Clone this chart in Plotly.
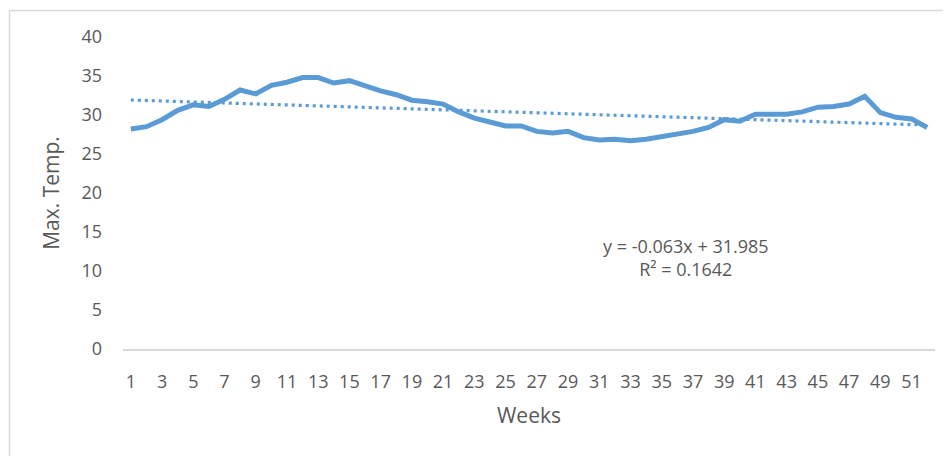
import plotly.graph_objects as go

# Weekly maximum temperature
WEEKS = list(range(1, 53))
MAX_TEMP = [
    28.2, 28.5, 29.4, 30.6, 31.3, 31.1, 32.0, 33.2, 32.7, 33.8,
    34.2, 34.8, 34.8, 34.1, 34.4, 33.7, 33.1, 32.6, 31.9, 31.7,
    31.4, 30.4, 29.6, 29.1, 28.6, 28.6, 27.9, 27.7, 27.9, 27.1,
    26.8, 26.9, 26.7, 26.9, 27.2, 27.6, 27.9, 28.4, 29.4, 29.2,
    30.1, 30.1, 30.1, 30.4, 31.0, 31.1, 31.4, 32.4, 30.3, 29.7,
    29.5, 28.4,
]
TICK_WEEKS = list(range(1, 52, 2))
Y_TICKS = [0, 5, 10, 15, 20, 25, 30, 35, 40]

# Linear trendline as printed on the chart
TREND_SLOPE = -0.063
TREND_INTERCEPT = 31.985
TREND_R2 = 0.1642

FONT_FAMILY = "Open Sans, Lato, sans-serif"
TEXT_COLOR = "#595959"
LINE_COLOR = "#5B9BD5"

W, H = 951, 456
PAGE_OFF = 8  # default body margin of the html page
# plot area on screen
P_LEFT, P_RIGHT, P_TOP, P_BOTTOM = 123, 935, 37, 349
M_L = P_LEFT - PAGE_OFF
M_T = P_TOP - PAGE_OFF
M_R = W + PAGE_OFF - P_RIGHT
M_B = H + PAGE_OFF - P_BOTTOM
pw, ph = P_RIGHT - P_LEFT, P_BOTTOM - P_TOP


def px_x(x):
    return (x - P_LEFT) / pw


def px_y(y):
    return (P_BOTTOM - y) / ph


trend_y = [TREND_SLOPE * w + TREND_INTERCEPT for w in (WEEKS[0], WEEKS[-1])]

fig = go.Figure()
fig.add_trace(go.Scatter(
    x=WEEKS, y=MAX_TEMP, mode="lines",
    line=dict(color=LINE_COLOR, width=5),
    name="Max. Temp.",
))
fig.add_trace(go.Scatter(
    x=[WEEKS[0], WEEKS[-1]], y=trend_y, mode="lines",
    line=dict(color=LINE_COLOR, width=3.2, dash="3px,4px"),
    name="Linear trend",
))

# chart-area border (only top and left edges are visible in the frame)
fig.add_shape(type="line", xref="paper", yref="paper",
              x0=px_x(9.5), x1=1.2, y0=px_y(10.5), y1=px_y(10.5),
              line=dict(color="#D9D9D9", width=1.5))
fig.add_shape(type="line", xref="paper", yref="paper",
              x0=px_x(9.5), x1=px_x(9.5), y0=-0.5, y1=px_y(10.5),
              line=dict(color="#D9D9D9", width=1.5))

fig.add_annotation(
    x=px_x(686), y=px_y(258), xref="paper", yref="paper",
    xanchor="center", yanchor="middle",
    text=f"y = {TREND_SLOPE}x + {TREND_INTERCEPT}<br>R² = {TREND_R2}",
    showarrow=False, align="center",
    font=dict(family=FONT_FAMILY, size=18, color=TEXT_COLOR),
)

fig.update_layout(
    width=W, height=H,
    margin=dict(l=M_L, r=M_R, t=M_T, b=M_B),
    showlegend=False,
    plot_bgcolor="white",
    paper_bgcolor="white",
    font=dict(family=FONT_FAMILY, size=18, color=TEXT_COLOR),
)
fig.update_xaxes(
    range=[0.5, 52.5], tickvals=TICK_WEEKS,
    showgrid=False, zeroline=False,
    showline=True, linecolor="#D9D9D9", linewidth=2,
    ticks="", ticklabelstandoff=15,
    title=dict(text="Weeks", font=dict(size=21), standoff=17),
)
fig.update_yaxes(
    range=[0, 40], tickvals=Y_TICKS,
    showgrid=False, zeroline=False, showline=False,
    ticks="", ticklabelstandoff=20,
    title=dict(text="Max. Temp.", font=dict(size=21), standoff=16),
)

fig.write_html("out.html")
